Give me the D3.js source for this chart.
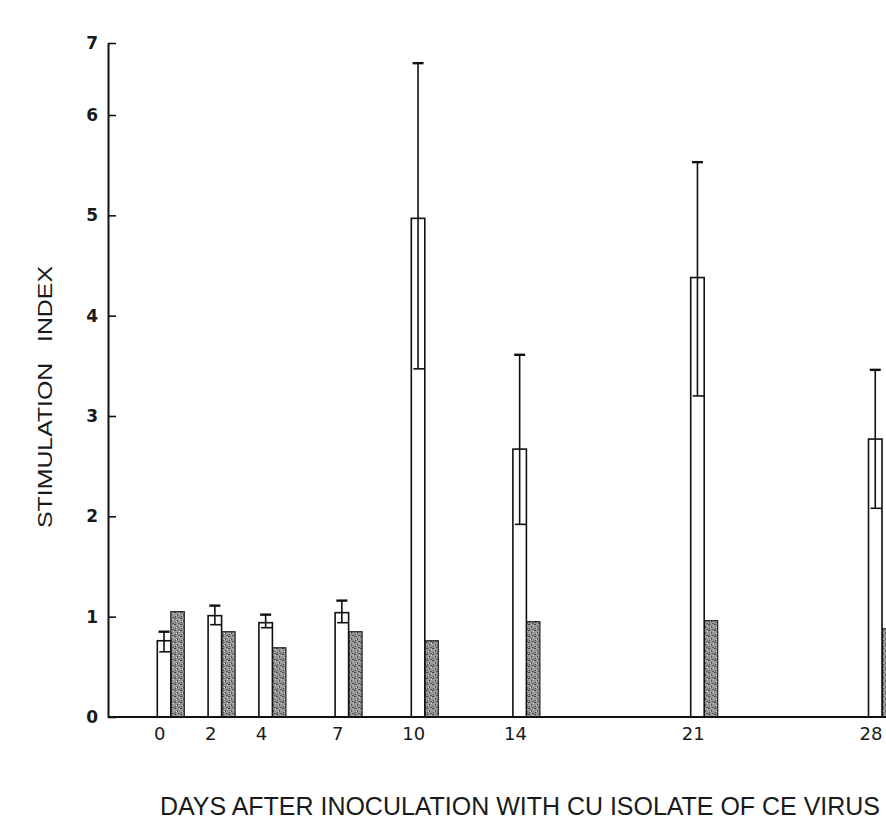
<!DOCTYPE html>
<html>
<head>
<meta charset="utf-8">
<script src="https://cdn.jsdelivr.net/npm/d3@7"></script>
<style>
	body { margin: 0; background: #fff; }
	svg { display: block; }
</style>
</head>
<body>
<svg id="chart"></svg>
<script>

// days after inoculation
var days = [0, 2, 4, 7, 10, 14, 21, 28];
// white bars: mean stimulation index, with upper / lower error limits
var whiteMean  = [0.76, 1.01, 0.94, 1.04, 4.97, 2.67, 4.38, 2.77];
var whiteUpper = [0.85, 1.11, 1.02, 1.16, 6.72, 3.61, 5.53, 3.46];
var whiteLower = [0.65, 0.92, 0.89, 0.94, 3.47, 1.92, 3.20, 2.08];
// stippled bars
var greyMean = [1.05, 0.85, 0.69, 0.85, 0.76, 0.95, 0.96, 0.88];
var yTicks = [0, 1, 2, 3, 4, 5, 6, 7];

var yTitle = "STIMULATION   INDEX",
	xTitle = "DAYS AFTER INOCULATION WITH CU ISOLATE OF CE VIRUS";

plot();

function plot() {

	var width = 886,
		height = 819,
		barW = 13.5,
		axisX = 108;

	var svg = d3.select("#chart")
		.attr("width", width)
		.attr("height", height);

	// the printed axis squeezes the 6-7 interval
	var y = d3.scaleLinear()
		.domain([0, 6, 7])
		.range([717, 115, 43]);

	var x = d3.scaleLinear()
		.domain([0, 28])
		.range([157.3, 868.5]);

	var rows = days.map((d, i) => ({
		day: d,
		mean: whiteMean[i],
		hi: whiteUpper[i],
		lo: whiteLower[i],
		grey: greyMean[i]
	}));

	// stipple texture for the grey bars
	var pat = svg.append("defs").append("pattern")
		.attr("id", "stipple")
		.attr("patternUnits", "userSpaceOnUse")
		.attr("width", 6)
		.attr("height", 6);
	pat.append("rect").attr("width", 6).attr("height", 6).attr("fill", "#979797");
	pat.append("rect").attr("x", 0).attr("y", 0).attr("width", 2).attr("height", 1).attr("fill", "#444");
	pat.append("rect").attr("x", 3).attr("y", 2).attr("width", 1).attr("height", 2).attr("fill", "#505050");
	pat.append("rect").attr("x", 1).attr("y", 4).attr("width", 1).attr("height", 1).attr("fill", "#404040");
	pat.append("rect").attr("x", 4).attr("y", 5).attr("width", 2).attr("height", 1).attr("fill", "#5a5a5a");
	pat.append("rect").attr("x", 5).attr("y", 1).attr("width", 1).attr("height", 1).attr("fill", "#d0d0d0");
	pat.append("rect").attr("x", 2).attr("y", 3).attr("width", 1).attr("height", 1).attr("fill", "#d4d4d4");

	// y axis, ticks pointing inward
	var yAxis = svg.append("g")
		.attr("transform", `translate(${axisX},0)`)
		.call(d3.axisLeft(y)
			.tickValues(yTicks)
			.tickSizeInner(-8)
			.tickSizeOuter(0)
			.tickPadding(10)
			.tickFormat(d3.format("d")));
	yAxis.select(".domain").attr("stroke", "#111").attr("stroke-width", 2);
	yAxis.selectAll(".tick line").attr("stroke", "#111").attr("stroke-width", 1.6);
	yAxis.selectAll(".tick text")
		.style("font-size", "17px")
		.style("font-family", "'DejaVu Sans', sans-serif")
		.style("font-weight", "bold")
		.attr("fill", "#1a1a1a");

	// bars
	var g = svg.append("g");

	g.selectAll("rect.grey")
		.data(rows)
		.join("rect")
		.attr("class", "grey")
		.attr("x", d => x(d.day) + barW)
		.attr("y", d => y(d.grey))
		.attr("width", barW)
		.attr("height", d => y(0) - y(d.grey))
		.attr("fill", "url(#stipple)")
		.attr("stroke", "#222")
		.attr("stroke-width", 1.2);

	g.selectAll("rect.white")
		.data(rows)
		.join("rect")
		.attr("class", "white")
		.attr("x", d => x(d.day))
		.attr("y", d => y(d.mean))
		.attr("width", barW)
		.attr("height", d => y(0) - y(d.mean))
		.attr("fill", "#fff")
		.attr("stroke", "#111")
		.attr("stroke-width", 1.6);

	// error bars
	var err = g.selectAll("g.err")
		.data(rows)
		.join("g")
		.attr("class", "err")
		.attr("stroke", "#111")
		.attr("stroke-width", 1.6);

	err.append("line")
		.attr("x1", d => x(d.day) + barW / 2)
		.attr("x2", d => x(d.day) + barW / 2)
		.attr("y1", d => y(d.lo))
		.attr("y2", d => y(d.hi));
	err.append("line")
		.attr("stroke-width", 2.4)
		.attr("x1", d => x(d.day) + barW / 2 - 5.5)
		.attr("x2", d => x(d.day) + barW / 2 + 5.5)
		.attr("y1", d => y(d.hi))
		.attr("y2", d => y(d.hi));
	err.append("line")
		.attr("x1", d => x(d.day) + 2)
		.attr("x2", d => x(d.day) + barW)
		.attr("y1", d => y(d.lo))
		.attr("y2", d => y(d.lo));

	// x axis: baseline plus day labels
	svg.append("line")
		.attr("x1", axisX)
		.attr("x2", width)
		.attr("y1", y(0))
		.attr("y2", y(0))
		.attr("stroke", "#111")
		.attr("stroke-width", 2);

	var xAxis = svg.append("g")
		.attr("transform", `translate(2,${y(0)})`)
		.call(d3.axisBottom(x)
			.tickValues(days)
			.tickSize(0)
			.tickPadding(10)
			.tickFormat(d3.format("d")));
	xAxis.select(".domain").remove();
	xAxis.selectAll(".tick text")
		.style("font-size", "18px")
		.style("font-family", "'DejaVu Sans', sans-serif")
		.attr("fill", "#1a1a1a");

	// titles
	svg.append("text")
		.attr("transform", `translate(52,397) rotate(-90)`)
		.attr("text-anchor", "middle")
		.style("font-family", "'Liberation Sans', Arial, sans-serif")
		.style("font-size", "21px")
		.style("white-space", "pre")
		.attr("fill", "#1a1a1a")
		.attr("textLength", 262)
		.attr("lengthAdjust", "spacingAndGlyphs")
		.text(yTitle);

	svg.append("text")
		.attr("x", 160)
		.attr("y", 815)
		.style("font-family", "'Liberation Sans', Arial, sans-serif")
		.style("font-size", "25px")
		.attr("fill", "#1a1a1a")
		.attr("textLength", 720)
		.attr("lengthAdjust", "spacingAndGlyphs")
		.text(xTitle);

}
</script>
</body>
</html>
